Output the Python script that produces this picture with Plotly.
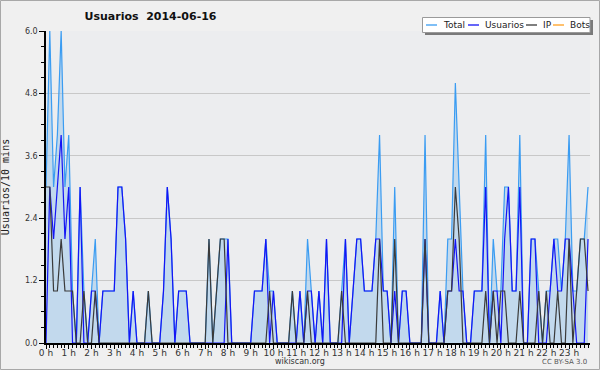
import plotly.graph_objects as go

# 10-minute slots over the day (hours)
slots = [i / 6 for i in range(144)]
hour_ticks = list(range(24))
hour_labels = [f"{h} h" for h in hour_ticks]
y_ticks = [0.0, 1.2, 2.4, 3.6, 4.8, 6.0]
y_labels = ["0.0", "1.2", "2.4", "3.6", "4.8", "6.0"]
series_names = ["Total", "Usuarios", "IP", "Bots"]
series_colors = ["#3a9cf2", "#1414f5", "#3a3a3a", "#ffa020"]

usuarios = [0, 3, 2, 3, 4, 2, 3, 0, 0, 3, 0, 0, 1, 1, 0, 1, 1, 1, 1, 3,
            3, 2, 0, 1, 0, 0, 0, 0, 0, 0, 0, 1, 3, 2, 0, 1, 1, 1, 0, 0,
            0, 0, 0, 0, 0, 0, 0, 0, 2, 0, 0, 0, 0, 0, 0, 1, 1, 1, 2, 0,
            1, 0, 0, 0, 0, 0, 0, 1, 0, 1, 1, 0, 1, 0, 2, 0, 0, 0, 0, 2,
            0, 1, 2, 2, 1, 1, 1, 2, 2, 1, 1, 0, 1, 0, 1, 1, 0, 0, 0, 0,
            2, 0, 0, 0, 1, 0, 1, 1, 2, 1, 1, 0, 0, 1, 1, 1, 3, 0, 1, 1,
            0, 2, 3, 1, 1, 3, 0, 0, 2, 2, 0, 0, 0, 1, 2, 1, 1, 2, 2, 1,
            0, 0, 0, 2]
ip = [3, 3, 1, 1, 2, 1, 1, 1, 0, 0, 1, 0, 0, 1, 0, 0, 0, 0, 0, 0,
      0, 0, 0, 0, 0, 0, 0, 1, 0, 0, 0, 0, 0, 0, 0, 0, 0, 0, 0, 0,
      0, 0, 0, 2, 0, 1, 2, 2, 0, 0, 0, 0, 0, 0, 0, 0, 0, 0, 0, 1,
      0, 0, 0, 0, 0, 1, 0, 0, 0, 1, 0, 0, 0, 0, 0, 0, 0, 0, 1, 0,
      0, 0, 0, 0, 0, 0, 0, 0, 2, 0, 0, 0, 2, 0, 0, 0, 0, 0, 0, 0,
      2, 0, 0, 0, 0, 0, 1, 1, 3, 2, 0, 0, 0, 0, 0, 0, 1, 0, 1, 0,
      1, 1, 0, 0, 0, 1, 0, 0, 0, 0, 1, 0, 1, 0, 0, 1, 0, 0, 2, 0,
      1, 2, 2, 1]
total = [3, 6, 3, 4, 6, 3, 4, 1, 0, 3, 1, 0, 1, 2, 0, 1, 1, 1, 1, 3,
         3, 2, 0, 1, 0, 0, 0, 1, 0, 0, 0, 1, 3, 2, 0, 1, 1, 1, 0, 0,
         0, 0, 0, 2, 0, 1, 2, 2, 2, 0, 0, 0, 0, 0, 0, 1, 1, 1, 2, 1,
         1, 0, 0, 0, 0, 1, 0, 1, 0, 2, 1, 0, 1, 0, 2, 0, 0, 0, 1, 2,
         0, 1, 2, 2, 1, 1, 1, 2, 4, 1, 1, 0, 3, 0, 1, 1, 0, 0, 0, 0,
         4, 0, 0, 0, 1, 0, 2, 2, 5, 3, 1, 0, 0, 1, 1, 1, 4, 0, 2, 1,
         1, 3, 3, 1, 1, 4, 0, 0, 2, 2, 1, 0, 1, 1, 2, 2, 1, 2, 4, 1,
         1, 2, 2, 3]
bots = [None] * 144

FONT = "DejaVu Sans"

fig = go.Figure()
fig.add_trace(go.Scatter(x=slots, y=total, name=series_names[0], mode="lines",
                         line=dict(color=series_colors[0], width=1.2),
                         fill="tozeroy", fillcolor="rgba(160,200,235,0.55)"))
fig.add_trace(go.Scatter(x=slots, y=usuarios, name=series_names[1], mode="lines",
                         line=dict(color=series_colors[1], width=1.2)))
fig.add_trace(go.Scatter(x=slots, y=ip, name=series_names[2], mode="lines",
                         line=dict(color=series_colors[2], width=1.2)))
fig.add_trace(go.Scatter(x=slots, y=bots, name=series_names[3], mode="lines",
                         line=dict(color=series_colors[3], width=1.2)))

L, R, T, B = 46, 10, 31, 27
W, H = 600, 370
pw, ph = W - L - R, H - T - B


def px(x):
    return (x - L) / pw


def py(y):
    return (H - B - y) / ph


shapes = [
    dict(type="rect", xref="paper", yref="paper",
         x0=px(0.5), x1=px(W - 0.5), y0=py(H - 0.5), y1=py(0.5),
         line=dict(color="#a8a8a8", width=1), layer="below"),
    # legend shadow and box
    dict(type="rect", xref="paper", yref="paper",
         x0=px(425), x1=px(593), y0=py(35), y1=py(20),
         fillcolor="#7a7a7a", line=dict(width=0), layer="above"),
    dict(type="rect", xref="paper", yref="paper",
         x0=px(422.5), x1=px(590), y0=py(32.5), y1=py(17.5),
         fillcolor="#ffffff", line=dict(color="#9a9a9a", width=1), layer="above"),
]
annotations = [
    dict(text="wikiscan.org", xref="paper", yref="paper",
         x=px(300), y=py(361.5), xanchor="center", yanchor="middle",
         showarrow=False, font=dict(family=FONT, size=8, color="#333333")),
    dict(text="CC BY-SA 3.0", xref="paper", yref="paper",
         x=px(589), y=py(361.5), xanchor="right", yanchor="middle",
         showarrow=False, font=dict(family=FONT, size=7, color="#555555")),
]
# legend entries: line sample + label
leg_line_x = [426, 468, 526, 553]
for name, color, lx in zip(series_names, series_colors, leg_line_x):
    shapes.append(dict(type="line", xref="paper", yref="paper",
                       x0=px(lx), x1=px(lx + 11), y0=py(25), y1=py(25),
                       line=dict(color=color, width=1.3), layer="above"))
    annotations.append(dict(text=name, xref="paper", yref="paper",
                            x=px(lx + 15), y=py(25), xanchor="left",
                            yanchor="middle", showarrow=False,
                            font=dict(family=FONT, size=9, color="#222222")))

fig.update_layout(
    width=W, height=H,
    margin=dict(l=L, r=R, t=T, b=B, pad=0),
    paper_bgcolor="#f0f0f0",
    plot_bgcolor="#ecedef",
    font=dict(family=FONT, size=9, color="#333333"),
    title=dict(text="<b>Usuarios\u00a0 2014-06-16</b>",
               x=150.5 / W, xanchor="center", xref="container",
               y=1 - 16 / H, yanchor="middle", yref="container",
               font=dict(family=FONT, size=11, color="#111111")),
    showlegend=False,
    xaxis=dict(range=[0, 23.92], tickmode="array", tickvals=hour_ticks,
               ticktext=hour_labels, ticks="outside", ticklen=4,
               tickcolor="#000000", showline=True, linecolor="#000000",
               linewidth=1.5, showgrid=False, zeroline=False, automargin=False,
               ticklabelstandoff=-4,
               tickfont=dict(family=FONT, size=9, color="#333333"),
               minor=dict(dtick=1 / 6, tick0=0, ticks="outside", ticklen=3,
                          tickcolor="#000000", showgrid=False),
               fixedrange=True),
    yaxis=dict(range=[0, 6], tickmode="array", tickvals=y_ticks,
               ticktext=y_labels, ticks="outside", ticklen=5,
               tickcolor="#000000", showline=True, linecolor="#000000",
               linewidth=1.5, showgrid=True, gridcolor="#c8c8c8",
               gridwidth=1, zeroline=False, automargin=False,
               tickfont=dict(family=FONT, size=8, color="#333333"),
               minor=dict(dtick=0.3, tick0=0, ticks="outside", ticklen=3,
                          tickcolor="#000000", showgrid=False),
               title=dict(text="Usuarios/10 mins", standoff=14,
                          font=dict(family="DejaVu Sans Mono", size=10,
                                    color="#222222")),
               fixedrange=True),
    shapes=shapes,
    annotations=annotations,
)

fig.write_html("out.html", config={"displayModeBar": False},
               post_script="document.body.style.margin='0';document.body.style.padding='0';")
